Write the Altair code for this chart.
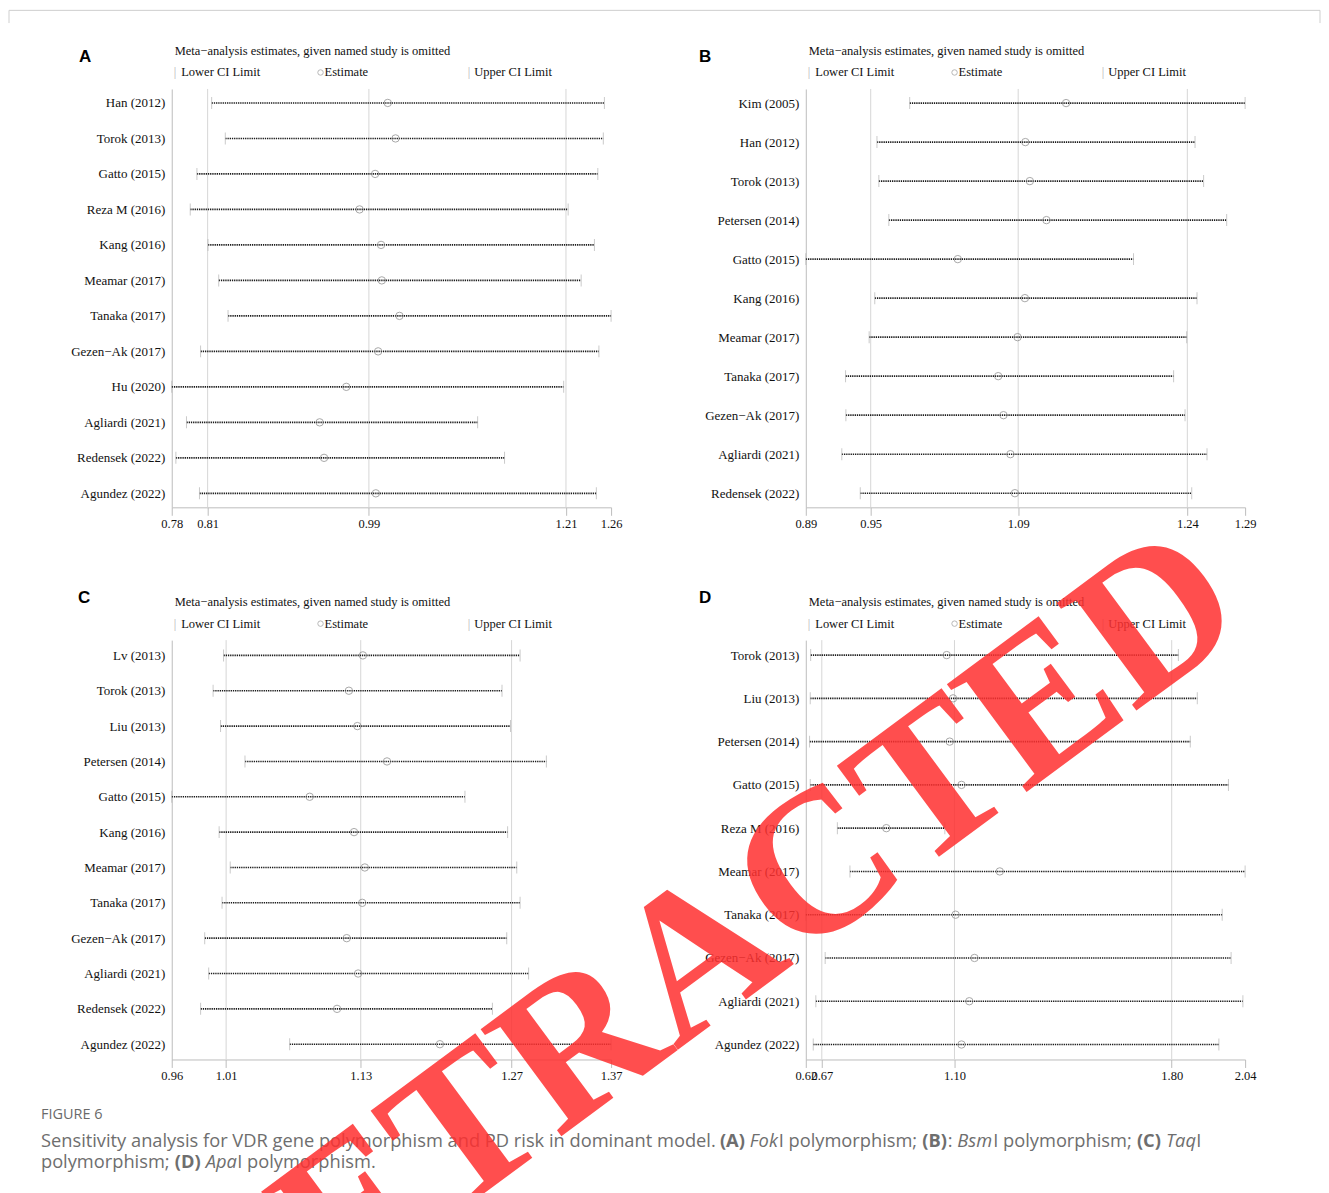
import altair as alt
import pandas as pd

# ---------------- data ----------------
TITLE = "Meta\u2212analysis estimates, given named study is omitted"

a_studies = ["Han (2012)", "Torok (2013)", "Gatto (2015)", "Reza M (2016)", "Kang (2016)",
             "Meamar (2017)", "Tanaka (2017)", "Gezen\u2212Ak (2017)", "Hu (2020)",
             "Agliardi (2021)", "Redensek (2022)", "Agundez (2022)"]
a_lower = [0.8212, 0.8361, 0.8051, 0.7978, 0.8172, 0.8289, 0.8391, 0.8091, 0.7776, 0.7937, 0.7821, 0.8079]
a_est = [1.0136, 1.0221, 0.9998, 0.9828, 1.0063, 1.0071, 1.0264, 1.0031, 0.9683, 0.9392, 0.9440, 1.0006]
a_upper = [1.2503, 1.2491, 1.2431, 1.2107, 1.2394, 1.2249, 1.2576, 1.2443, 1.2058, 1.1118, 1.1412, 1.2415]
a_ticks = [0.7776, 0.8168, 0.9930, 1.2083, 1.2576]
a_tick_labels = ["0.78", "0.81", "0.99", "1.21", "1.26"]

b_studies = ["Kim (2005)", "Han (2012)", "Torok (2013)", "Petersen (2014)", "Gatto (2015)",
             "Kang (2016)", "Meamar (2017)", "Tanaka (2017)", "Gezen\u2212Ak (2017)",
             "Agliardi (2021)", "Redensek (2022)"]
b_lower = [0.9871, 0.9573, 0.9590, 0.9681, 0.8925, 0.9553, 0.9502, 0.9287, 0.9290, 0.9253, 0.9421]
b_est = [1.1295, 1.0924, 1.0965, 1.1116, 1.0309, 1.0920, 1.0853, 1.0677, 1.0725, 1.0788, 1.0829]
b_upper = [1.2925, 1.2469, 1.2547, 1.2757, 1.1909, 1.2487, 1.2393, 1.2274, 1.2378, 1.2578, 1.2439]
b_ticks = [0.8925, 0.9516, 1.0859, 1.2399, 1.2925]
b_tick_labels = ["0.89", "0.95", "1.09", "1.24", "1.29"]

c_studies = ["Lv (2013)", "Torok (2013)", "Liu (2013)", "Petersen (2014)", "Gatto (2015)",
             "Kang (2016)", "Meamar (2017)", "Tanaka (2017)", "Gezen\u2212Ak (2017)",
             "Agliardi (2021)", "Redensek (2022)", "Agundez (2022)"]
c_lower = [1.0066, 0.9969, 1.0038, 1.0265, 0.9585, 1.0025, 1.0128, 1.0052, 0.9891, 0.9928, 0.9853, 1.0680]
c_est = [1.1360, 1.1230, 1.1309, 1.1584, 1.0866, 1.1278, 1.1378, 1.1354, 1.1210, 1.1316, 1.1120, 1.2075]
c_upper = [1.2820, 1.2652, 1.2731, 1.3064, 1.2308, 1.2704, 1.2789, 1.2820, 1.2696, 1.2899, 1.2563, 1.3665]
c_ticks = [0.9585, 1.0090, 1.1340, 1.2741, 1.3665]
c_tick_labels = ["0.96", "1.01", "1.13", "1.27", "1.37"]

d_studies = ["Torok (2013)", "Liu (2013)", "Petersen (2014)", "Gatto (2015)", "Reza M (2016)",
             "Meamar (2017)", "Tanaka (2017)", "Gezen\u2212Ak (2017)", "Agliardi (2021)",
             "Agundez (2022)"]
d_lower = [0.6351, 0.6337, 0.6315, 0.6337, 0.7214, 0.7620, 0.6193, 0.6819, 0.6517, 0.6434]
d_est = [1.0748, 1.0953, 1.0845, 1.1226, 0.8796, 1.2463, 1.1035, 1.1646, 1.1478, 1.1226]
d_upper = [1.8236, 1.8847, 1.8621, 1.9854, 1.0687, 2.0393, 1.9652, 1.9940, 2.0321, 1.9545]
d_ticks = [0.6193, 0.6711, 1.0999, 1.8020, 2.0393]
d_tick_labels = ["0.62", "0.67", "1.10", "1.80", "2.04"]

# ---------------- helpers ----------------
SERIF = "Liberation Serif"
SANS = "Open Sans"
INK = "#111111"
one = pd.DataFrame({"k": [0]})


def txt(s, x, y, size=12.5, font=SERIF, color=INK, weight="normal", style="normal",
        align="left", angle=None, opacity=None):
    kw = dict(text=s, font=font, fontSize=size, color=color, fontWeight=weight,
              fontStyle=style, align=align, baseline="middle")
    if angle is not None:
        kw["angle"] = angle
    if opacity is not None:
        kw["opacity"] = opacity
    return alt.Chart(one).mark_text(**kw).encode(x=alt.value(x), y=alt.value(y))


def label_expr(vals, labs):
    expr = "'" + labs[-1] + "'"
    for i in range(len(vals) - 2, -1, -1):
        thr = (vals[i] + vals[i + 1]) / 2
        expr = f"datum.value < {thr:.5f} ? '{labs[i]}' : " + expr
    return expr


W = 440


def panel(studies, lower, est, upper, ticks, tick_labels, pad, height,
          letter, letter_dx, letter_dy, extra=()):
    df = pd.DataFrame({"study": studies, "lower": lower, "est": est, "upper": upper})
    refs = pd.DataFrame({"v": ticks[1:4]})
    xscale = alt.Scale(domain=[ticks[0], ticks[-1]], nice=False, zero=False)
    xaxis = alt.Axis(values=ticks, labelExpr=label_expr(ticks, tick_labels), title=None,
                     grid=False, domainColor="#bdbdbd", tickColor="#bdbdbd", tickSize=8,
                     labelFont=SERIF, labelFontSize=12.5, labelColor=INK, labelPadding=2,
                     labelOverlap=False, labelFlush=False, labelBound=False)
    yscale = alt.Scale(type="point", domain=studies, padding=pad)
    yaxis = alt.Axis(title=None, ticks=False, grid=False, domainColor="#bdbdbd",
                     labelFont=SERIF, labelFontSize=13, labelColor=INK, labelPadding=7)
    X = lambda f: alt.X(f, scale=xscale, axis=xaxis)
    Y = alt.Y("study:N", scale=yscale, axis=yaxis)

    grid = alt.Chart(refs).mark_rule(color="#d6d6d6", strokeWidth=1).encode(x=X("v:Q"))
    line = alt.Chart(df).mark_rule(color="#1a1a1a", strokeDash=[1.3, 0.9], strokeWidth=1.6).encode(
        x=X("lower:Q"), x2="upper:Q", y=Y)
    cap_lo = alt.Chart(df).mark_tick(color="#b3b3b3", size=12, thickness=1).encode(x=X("lower:Q"), y=Y)
    cap_hi = alt.Chart(df).mark_tick(color="#b3b3b3", size=12, thickness=1).encode(x=X("upper:Q"), y=Y)
    circ = alt.Chart(df).mark_point(shape="circle", filled=False, size=55, color="#858585",
                                     strokeWidth=1).encode(x=X("est:Q"), y=Y)

    legend_circle = alt.Chart(one).mark_point(shape="circle", filled=False, size=30,
                                              color="#9a9a9a", strokeWidth=1).encode(
        x=alt.value(149), y=alt.value(-16.5))
    annots = [
        txt(TITLE, 3, -38),
        txt("|", 2, -16.5, color="#b5b5b5"),
        txt("Lower CI Limit", 9.5, -16.5),
        legend_circle,
        txt("Estimate", 153, -16.5),
        txt("|", 296.5, -16.5, color="#b5b5b5"),
        txt("Upper CI Limit", 303, -16.5),
        txt(letter, letter_dx, letter_dy, size=17, font="Liberation Sans", weight="bold", color="#000000"),
    ]
    layers = [grid, line, cap_lo, cap_hi, circ] + annots + list(extra)
    return alt.layer(*layers).properties(width=W, height=height)


# frame line at the top of the figure (relative to panel A's plot origin)
frame = [
    alt.Chart(one).mark_rule(color="#cfcfcf", strokeWidth=1).encode(
        x=alt.value(-163), x2=alt.value(1150), y=alt.value(-78.7)),
    alt.Chart(one).mark_rule(color="#cfcfcf", strokeWidth=1).encode(
        x=alt.value(-163), y=alt.value(-78.7), y2=alt.value(-66)),
    alt.Chart(one).mark_rule(color="#cfcfcf", strokeWidth=1).encode(
        x=alt.value(1150), y=alt.value(-78.7), y2=alt.value(-66)),
]

# caption and watermark (relative to panel D's plot origin)
CAP = "#6e6e6e"
CS = 18.3
L1, L2 = 502.7, 523.7
caption = [
    txt("FIGURE 6", -766, 475.7, size=14.5, font=SANS, color="#6a6a6a"),
    txt("Sensitivity analysis for VDR gene polymorphism and PD risk in dominant model.", -766, L1,
        size=CS, font=SANS, color=CAP),
    txt("(A)", -86, L1, size=CS, font=SANS, color=CAP, weight="bold"),
    txt("Fok", -56, L1, size=CS, font=SANS, color=CAP, style="italic"),
    txt("I polymorphism;", -27.2, L1, size=CS, font=SANS, color=CAP),
    txt("(B)", 116.7, L1, size=CS, font=SANS, color=CAP, weight="bold"),
    txt(":", 142.1, L1, size=CS, font=SANS, color=CAP),
    txt("Bsm", 151.8, L1, size=CS, font=SANS, color=CAP, style="italic"),
    txt("I polymorphism;", 187.7, L1, size=CS, font=SANS, color=CAP),
    txt("(C)", 331.6, L1, size=CS, font=SANS, color=CAP, weight="bold"),
    txt("Taq", 360.7, L1, size=CS, font=SANS, color=CAP, style="italic"),
    txt("I", 391, L1, size=CS, font=SANS, color=CAP),
    txt("polymorphism;", -766, L2, size=CS, font=SANS, color=CAP),
    txt("(D)", -632, L2, size=CS, font=SANS, color=CAP, weight="bold"),
    txt("Apa", -601, L2, size=CS, font=SANS, color=CAP, style="italic"),
    txt("I polymorphism.", -569.5, L2, size=CS, font=SANS, color=CAP),
    txt("RETRACTED", -107, 317.7, size=205, font=SERIF, weight="bold", color="#ff3030",
        align="center", angle=323.5, opacity=0.85),
]

pA = panel(a_studies, a_lower, a_est, a_upper, a_ticks, a_tick_labels, 0.394, 419, "A", -93, -32, frame)
pB = panel(b_studies, b_lower, b_est, b_upper, b_ticks, b_tick_labels, 0.362, 419, "B", -107, -32)
pC = panel(c_studies, c_lower, c_est, c_upper, c_ticks, c_tick_labels, 0.432, 420, "C", -94, -42)
pD = panel(d_studies, d_lower, d_est, d_upper, d_ticks, d_tick_labels, 0.346, 420, "D", -107, -42, caption)

chart = alt.concat(pA, pB, pC, pD, columns=2, spacing={"row": 133, "column": 195},
                   bounds="flush").properties(
    padding=0, background="white").configure_view(stroke=None)

chart.save("out.html", embed_options={"renderer": "svg", "actions": False})
